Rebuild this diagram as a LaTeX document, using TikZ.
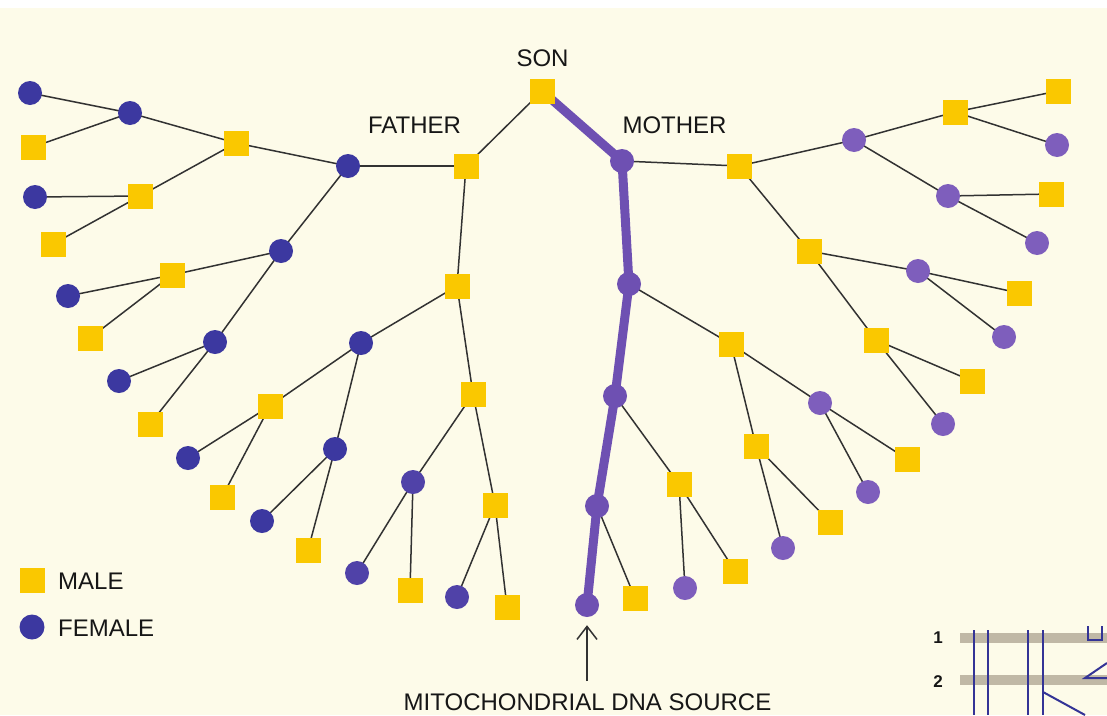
\documentclass[tikz,border=0pt]{standalone}
\usepackage{fontspec}
\setmainfont{Liberation Sans}
\usetikzlibrary{arrows.meta}
\definecolor{bgc}{RGB}{253,251,233}
\definecolor{yel}{RGB}{250,200,0}
\definecolor{femb}{RGB}{60,56,160}
\definecolor{femc}{RGB}{80,66,168}
\definecolor{femp}{RGB}{126,94,188}
\definecolor{femm}{RGB}{110,80,178}
\definecolor{lnc}{RGB}{50,50,50}
\definecolor{txt}{RGB}{22,22,22}
\definecolor{barc}{RGB}{192,184,166}
\definecolor{frag}{RGB}{52,52,150}
\pgfdeclarelayer{bg}\pgfdeclarelayer{edges}\pgfsetlayers{bg,edges,main}
\begin{document}
\begin{tikzpicture}[x=1pt,y=-1pt,
 male/.style={rectangle,fill=yel,draw=none,minimum size=25pt,inner sep=0},
 fb/.style={circle,fill=femb,minimum size=24pt,inner sep=0},
 fc/.style={circle,fill=femc,minimum size=24pt,inner sep=0},
 fp/.style={circle,fill=femp,minimum size=24pt,inner sep=0},
 fm/.style={circle,fill=femm,minimum size=24pt,inner sep=0},
 lbl/.style={font=\fontsize{24}{28}\selectfont,text=txt,inner sep=0},
 small/.style={font=\fontsize{17}{20}\selectfont\bfseries,text=txt,inner sep=0},
 conn/.style={draw=lnc,line width=1.5pt},
 mtline/.style={draw=femm,line width=9pt,line join=round,line cap=round},
 fragline/.style={draw=frag,line width=2pt}
]
\useasboundingbox (0,0) rectangle (1107,715);
\begin{pgfonlayer}{bg}
\fill[white] (0,0) rectangle (1107,715);
\fill[bgc] (0,8) rectangle (1107,715);
\end{pgfonlayer}

% labels
\node[lbl] (tson) at (542.5,58) {SON};
\node[lbl] (tfa) at (414.5,125) {FATHER};
\node[lbl] (tmo) at (674.5,125) {MOTHER};
\node[lbl] (mtl) at (587.5,702) {MITOCHONDRIAL DNA SOURCE};

% core
\node[male] (son) at (542,91) {};
\node[male] (fa) at (466,166) {};
\node[fm] (mo) at (622,161) {};

% father side
\node[fb] (fm1) at (348,166) {};
\node[male] (ff1) at (457,286) {};
\node[male] (a1) at (236,143) {};
\node[fb] (a2) at (281,251) {};
\node[fb] (a11) at (130,113) {};
\node[male] (a12) at (140,196) {};
\node[fb] (a111) at (30,93) {};
\node[male] (a112) at (33,147) {};
\node[fb] (a121) at (35,197) {};
\node[male] (a122) at (53,244) {};
\node[male] (a21) at (172,275) {};
\node[fb] (a22) at (215,342) {};
\node[fb] (a211) at (68,296) {};
\node[male] (a212) at (90,338) {};
\node[fb] (a221) at (119,381) {};
\node[male] (a222) at (150,424) {};
\node[fb] (b1) at (361,343) {};
\node[male] (b2) at (473,394) {};
\node[male] (b11) at (270,406) {};
\node[fb] (b12) at (335,449) {};
\node[fb] (b111) at (188,458) {};
\node[male] (b112) at (222,497) {};
\node[fb] (b121) at (262,521) {};
\node[male] (b122) at (308,550) {};
\node[fc] (b21) at (413,482) {};
\node[male] (b22) at (495,505) {};
\node[fc] (b211) at (357,573) {};
\node[male] (b212) at (410,590) {};
\node[fc] (b221) at (457,597) {};
\node[male] (b222) at (507,607) {};

% mother side
\node[male] (mf) at (739,166) {};
\node[fm] (mm) at (629,284) {};
\node[fp] (c1) at (854,140) {};
\node[male] (c2) at (809,251) {};
\node[male] (c11) at (955,112) {};
\node[fp] (c12) at (948,196) {};
\node[male] (c111) at (1058,91) {};
\node[fp] (c112) at (1057,145) {};
\node[male] (c121) at (1051,194) {};
\node[fp] (c122) at (1037,243) {};
\node[fp] (c21) at (918,271) {};
\node[male] (c22) at (876,340) {};
\node[male] (c211) at (1019,293) {};
\node[fp] (c212) at (1004,337) {};
\node[male] (c221) at (972,381) {};
\node[fp] (c222) at (943,424) {};
\node[male] (d1) at (731,344) {};
\node[fm] (d2) at (615,396) {};
\node[fp] (d11) at (820,403) {};
\node[male] (d12) at (756,446) {};
\node[male] (d111) at (907,459) {};
\node[fp] (d112) at (868,492) {};
\node[male] (d121) at (830,522) {};
\node[fp] (d122) at (783,548) {};
\node[male] (e1) at (679,484) {};
\node[fm] (e2) at (597,506) {};
\node[male] (e11) at (735,571) {};
\node[fp] (e12) at (685,588) {};
\node[male] (f1) at (635,598) {};
\node[fm] (f2) at (587,605) {};

\begin{pgfonlayer}{edges}
\foreach \p/\q in {son/fa,fa/fm1,fa/ff1,fm1/a1,fm1/a2,a1/a11,a1/a12,a11/a111,a11/a112,
  a12/a121,a12/a122,a2/a21,a2/a22,a21/a211,a21/a212,a22/a221,a22/a222,
  ff1/b1,ff1/b2,b1/b11,b1/b12,b11/b111,b11/b112,b12/b121,b12/b122,
  b2/b21,b2/b22,b21/b211,b21/b212,b22/b221,b22/b222,
  mo/mf,mf/c1,mf/c2,c1/c11,c1/c12,c11/c111,c11/c112,c12/c121,c12/c122,
  c2/c21,c2/c22,c21/c211,c21/c212,c22/c221,c22/c222,
  mm/d1,d1/d11,d1/d12,d11/d111,d11/d112,d12/d121,d12/d122,
  d2/e1,e1/e11,e1/e12,e2/f1}
  {\draw[conn] (\p.center) -- (\q.center);}
\draw[mtline] (son.center) -- (mo.center) -- (mm.center) -- (d2.center) -- (e2.center) -- (f2.center);
\end{pgfonlayer}

% arrow
\coordinate (atail) at (587,681);
\draw[draw=lnc,line width=1.5pt,-{Straight Barb[length=13pt,width=20pt,line width=1.5pt]}] (atail) -- ([yshift=-8pt]f2.south);

% legend
\node[male] (lm) at (32,580) {};
\node[fb,minimum size=25pt] (lf) at (32,627) {};
\node[lbl,anchor=west] (tlm) at (58,581) {MALE};
\node[lbl,anchor=west] (tlf) at (58,628) {FEMALE};

% fragment of neighbouring figure
\begin{scope}
\clip (0,0) rectangle (1107,715);
\fill[barc] (960,633) rectangle (1107,643);
\fill[barc] (960,675) rectangle (1107,685);
\node[small] (n1) at (938,638) {1};
\node[small] (n2) at (938,682) {2};
\draw[fragline] (974,630) -- (974,715);
\draw[fragline] (988,630) -- (988,715);
\draw[fragline] (1028,630) -- (1028,715);
\draw[fragline] (1043,630) -- (1043,715);
\draw[fragline] (1043,692) -- (1085,715);
\draw[fragline] (1107,663) -- (1085,678) -- (1107,678);
\draw[fragline] (1088,626) -- (1088,640) -- (1102,640) -- (1102,626);
\end{scope}
\end{tikzpicture}
\end{document}
